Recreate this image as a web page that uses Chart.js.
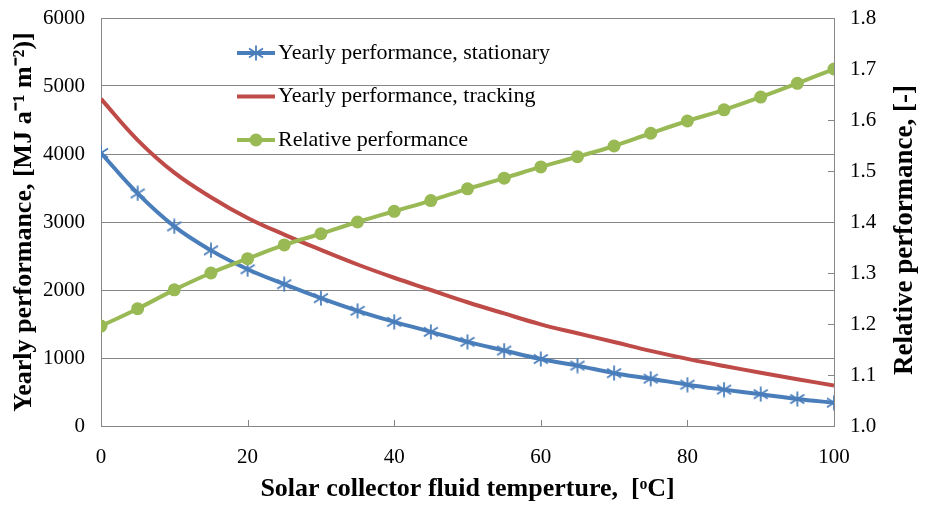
<!DOCTYPE html>
<html>
<head>
<meta charset="utf-8">
<script src="https://cdn.jsdelivr.net/npm/chart.js@4/dist/chart.umd.min.js"></script>
<style>
html,body{margin:0;padding:0;background:#fff;}
canvas{display:block;}
</style>
</head>
<body>
<canvas id="c" width="926" height="506"></canvas>
<script>
const temperatures = [0,5,10,15,20,25,30,35,40,45,50,55,60,65,70,75,80,85,90,95,100];
const stationary = [4015,3420,2935,2583,2305,2085,1880,1694,1532,1385,1238,1110,985,888,777,696,608,535,468,397,343];
const tracking = [4810,4205,3725,3365,3060,2815,2590,2375,2180,2000,1820,1655,1495,1363,1235,1105,987,882,784,688,595];
const relative = [1.196,1.230,1.267,1.300,1.328,1.355,1.377,1.400,1.421,1.442,1.465,1.486,1.508,1.528,1.549,1.574,1.598,1.620,1.645,1.672,1.700];
const seriesNames = ['Yearly performance, stationary','Yearly performance, tracking','Relative performance'];
const xTitle = 'Solar collector fluid temperture,  [\u1D52C]';
const yTitle = 'Yearly performance, [MJ a\u207B\u00B9 m\u207B\u00B2)]';
const y2Title = 'Relative performance, [-]';

const BLUE = '#4a7ebb', RED = '#be4b48', GREEN = '#98b954', GRID = '#868686';
const FONT = "'Liberation Serif','Times New Roman',serif";
const CLEAR = 'rgba(0,0,0,0)';

function starImage(color){
  const c = document.createElement('canvas');
  c.width = 16; c.height = 16;
  const g = c.getContext('2d');
  g.strokeStyle = color; g.lineWidth = 1.8;
  g.beginPath();
  g.moveTo(8,0.5); g.lineTo(8,15.5);
  g.moveTo(1,3.5); g.lineTo(15,12.5);
  g.moveTo(1,12.5); g.lineTo(15,3.5);
  g.stroke();
  return c;
}
const star = starImage(BLUE);

const pts = (ys) => temperatures.map((x,i)=>({x:x,y:ys[i]}));

const legendPlugin = {
  id:'customLegend',
  afterDraw(chart){
    const ctx = chart.ctx;
    ctx.save();
    chart.data.datasets.forEach((ds,i)=>{
      const y = 53 + i*43.5;
      ctx.strokeStyle = ds.borderColor; ctx.lineWidth = 4;
      ctx.beginPath(); ctx.moveTo(237,y); ctx.lineTo(275,y); ctx.stroke();
      if (ds.pointStyle === star) {
        ctx.drawImage(star, 256-8, y-8);
      } else if (ds.pointRadius > 0) {
        ctx.fillStyle = ds.pointBackgroundColor;
        ctx.beginPath(); ctx.arc(256,y,ds.pointRadius,0,Math.PI*2); ctx.fill();
      }
      ctx.fillStyle = '#000';
      ctx.font = '22px ' + FONT;
      ctx.textBaseline = 'middle'; ctx.textAlign = 'left';
      ctx.fillText(ds.label, 278, y);
    });
    ctx.restore();
    ctx.save();
    ctx.font = 'bold 27px ' + FONT;
    ctx.textAlign = 'center'; ctx.textBaseline = 'alphabetic';
    ctx.fillStyle = '#000';
    ctx.translate(912, 230);
    ctx.rotate(-Math.PI/2);
    ctx.fillText(y2Title, 0, 0);
    ctx.restore();
  },
  beforeDatasetsDraw(chart){
    const ctx = chart.ctx, a = chart.chartArea;
    ctx.save();
    ctx.strokeStyle = GRID; ctx.lineWidth = 1;
    ctx.beginPath();
    chart.scales.x.ticks.forEach(t=>{
      const px = Math.round(chart.scales.x.getPixelForValue(t.value)) + 0.5;
      ctx.moveTo(px, a.bottom); ctx.lineTo(px, a.bottom-6);
    });
    chart.scales.y2.ticks.forEach(t=>{
      const py = Math.round(chart.scales.y2.getPixelForValue(t.value)) + 0.5;
      ctx.moveTo(a.right, py); ctx.lineTo(a.right-6, py);
    });
    ctx.stroke();
    ctx.restore();
  }
};

new Chart(document.getElementById('c'), {
  type:'line',
  data:{
    datasets:[
      {label:seriesNames[0], data:pts(stationary), yAxisID:'y', borderColor:BLUE, backgroundColor:BLUE,
       borderWidth:4, pointStyle:star, pointRadius:8, tension:0.4, order:2},
      {label:seriesNames[1], data:pts(tracking), yAxisID:'y', borderColor:RED, backgroundColor:RED,
       borderWidth:4, pointRadius:0, tension:0.4, order:1},
      {label:seriesNames[2], data:pts(relative), yAxisID:'y2', borderColor:GREEN, backgroundColor:GREEN,
       pointBackgroundColor:GREEN, pointBorderColor:GREEN, borderWidth:4, pointRadius:6.5, pointBorderWidth:0,
       tension:0.4, order:0}
    ]
  },
  options:{
    responsive:false, devicePixelRatio:1, animation:false,
    layout:{autoPadding:false, padding:{top:18,left:0,right:0,bottom:0}},
    plugins:{legend:{display:false}, tooltip:{enabled:false}},
    scales:{
      x:{type:'linear', min:0, max:100,
         ticks:{stepSize:20, color:'#000', font:{family:FONT,size:21}, padding:19, callback:(v)=>String(v)},
         grid:{display:false, drawTicks:false},
         border:{display:true, color:GRID, width:1},
         title:{display:true, text:xTitle, color:'#000', font:{family:FONT,size:26,weight:'bold'}, padding:{top:0,bottom:1}},
         afterFit(s){ s.height = 80; }},
      y:{type:'linear', position:'left', min:0, max:6000,
         ticks:{stepSize:1000, color:'#000', font:{family:FONT,size:21}, padding:2, callback:(v)=>String(v)},
         grid:{color:GRID, lineWidth:1, drawTicks:true, tickLength:14, tickColor:CLEAR},
         border:{display:true, color:GRID, width:1},
         title:{display:true, text:yTitle, color:'#000', font:{family:FONT,size:26,weight:'bold'}, padding:{top:9,bottom:0}},
         afterFit(s){ s.width = 101; }},
      y2:{type:'linear', position:'right', min:1.0, max:1.8,
         ticks:{stepSize:0.1, color:'#000', font:{family:FONT,size:21}, padding:2, callback:(v)=>Number(v).toFixed(1)},
         grid:{drawOnChartArea:false, drawTicks:true, tickLength:14, tickColor:CLEAR},
         border:{display:true, color:GRID, width:1},
         title:{display:false},
         afterFit(s){ s.width = 92; }}
    }
  },
  plugins:[legendPlugin]
});
</script>
</body>
</html>
